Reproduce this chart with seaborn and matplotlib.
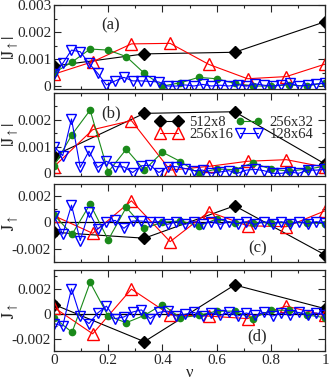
import numpy as np
import matplotlib
matplotlib.use("Agg")
import matplotlib.pyplot as plt
from matplotlib.ticker import MultipleLocator, FixedLocator
import seaborn as sns

# filling factors for each lattice
nu_512x8 = [0, 1/3, 2/3, 1]
nu_256x16 = [k / 7 for k in range(8)]
nu_256x32 = [k / 15 for k in range(16)]
nu_128x64 = [k / 31 for k in range(32)]

# panel (a) |J_up|
a_512x8 = [0.00074, 0.00119, 0.00125, 0.00238]
a_256x16 = [0.00044, 0.00090, 0.00156, 0.00158, 0.00080, 0.00027, 0.00035, 0.00081]
a_256x32 = [0.00049, 0.00089, 0.00137, 0.00133, 0.00109, 0.00047, 0.0, 0.00012,
            0.00032, 0.00027, 0.00010, 0.0, 0.0, 0.00004, 0.0, 0.00012]
a_128x64 = [0.00044, 0.00084, 0.00133, 0.00127, 0.00084, 0.00047, 0.00004, 0.00019,
            0.00032, 0.00019, 0.00019, 0.00017, 0.00015, 0.0, 0.0, 0.00004,
            0.0, 0.00006, 0.0, 0.00003, 0.0, 0.00005, 0.0, 0.00008,
            0.00003, 0.0, 0.00004, 0.00010, 0.0, 0.00003, 0.00008, 0.00010]

# panel (b) |J_up|
b_512x8 = [0.00066, 0.00224, 0.00230, 0.00035]
b_256x16 = [0.00025, 0.00163, 0.00197, 0.00012, 0.00026, 0.00045, 0.00051, 0.00023]
b_256x32 = [0.00028, 0.00145, 0.00236, 0.00005, 0.00090, 0.00012, 0.00079, 0.00044,
            0.0, 0.00016, 0.00014, 0.00039, 0.00016, 0.00008, 0.00016, 0.00026]
b_128x64 = [0.00100, 0.00066, 0.00203, 0.00022, 0.00083, 0.00022, 0.00045, 0.00025,
            0.00024, 0.00003, 0.00028, 0.00030, 0.00003, 0.00025, 0.00025, 0.00018,
            0.00010, 0.00012, 0.0, 0.00005, 0.00010, 0.0, 0.00012, 0.00015,
            0.00010, 0.0, 0.0, 0.00005, 0.0, 0.00012, 0.00012, 0.00015]

# panel (c) J_up
c_512x8 = [-0.00075, -0.00120, 0.00125, -0.00246]
c_256x16 = [0.00050, -0.00083, 0.00163, -0.00146, 0.00080, -0.00026, -0.00033, 0.00087]
c_256x32 = [0.00055, -0.00090, 0.00138, -0.00133, 0.00113, -0.00045, 0.0, 0.00012,
            -0.00028, 0.00025, -0.00005, -0.00002, -0.00002, -0.00002, -0.00002, -0.00010]
c_128x64 = [0.00050, -0.00090, 0.00130, -0.00138, 0.00080, -0.00050, 0.0, 0.00015,
            -0.00045, 0.00010, 0.00010, 0.0, 0.00005, -0.00015, 0.00005, -0.00015,
            0.00005, -0.00010, 0.00005, -0.00015, 0.00005, -0.00010, 0.00005, -0.00015,
            0.00005, -0.00010, 0.00005, -0.00015, 0.00005, -0.00010, 0.00005, -0.00005]

# panel (d) J_up
d_512x8 = [0.00073, -0.00225, 0.00230, 0.00040]
d_256x16 = [0.00049, -0.00162, 0.00197, -0.00010, -0.00020, -0.00040, 0.00060, -0.00014]
d_256x32 = [-0.00033, -0.00150, 0.00250, -0.00020, -0.00073, -0.00014, 0.00073, -0.00033,
            -0.00014, 0.00020, 0.00020, -0.00040, 0.00027, 0.00027, -0.00010, -0.00033]
d_128x64 = [-0.00080, -0.00100, 0.00200, -0.00020, -0.00080, 0.00005, 0.00060, -0.00040,
            -0.00027, 0.00013, 0.00030, -0.00040, 0.00010, 0.00020, -0.00020, -0.00005,
            0.00010, -0.00020, 0.00005, -0.00015, 0.00010, -0.00020, 0.00005, -0.00015,
            0.00010, -0.00020, 0.00005, -0.00015, 0.00010, -0.00015, 0.00005, -0.00010]

labels = ["512x8", "256x16", "256x32", "128x64"]
nus = [nu_512x8, nu_256x16, nu_256x32, nu_128x64]
panels = [
    ("(a)", [a_512x8, a_256x16, a_256x32, a_128x64]),
    ("(b)", [b_512x8, b_256x16, b_256x32, b_128x64]),
    ("(c)", [c_512x8, c_256x16, c_256x32, c_128x64]),
    ("(d)", [d_512x8, d_256x16, d_256x32, d_128x64]),
]
yticks = [[0, 0.001, 0.002, 0.003], [0, 0.001, 0.002],
          [-0.002, 0, 0.002], [-0.002, 0, 0.002]]

sns.set_style("ticks")
plt.rcParams["font.family"] = ["Liberation Serif", "DejaVu Serif"]
plt.rcParams["mathtext.fontset"] = "stix"
plt.rcParams["xtick.direction"] = "in"
plt.rcParams["ytick.direction"] = "in"

styles = [
    dict(color="black", marker="D", markersize=6, markerfacecolor="black", markeredgecolor="black"),
    dict(color="red", marker="^", markersize=8.5, markerfacecolor="none", markeredgecolor="red"),
    dict(color="#1a8a1a", marker="o", markersize=4.5, markerfacecolor="#1a8a1a", markeredgecolor="#1a8a1a"),
    dict(color="blue", marker="v", markersize=7, markerfacecolor="none", markeredgecolor="blue"),
]

# axes boxes (top, bottom) in pixels
W, H = 332, 382
boxes = [(5, 89), (93, 176), (184, 262), (270, 351)]
ylims = [(-0.00011, 0.003), (-0.0001, 0.003), (-0.003, 0.0029), (-0.003, 0.0035)]
label_pos = [(0.21, 0.76), (0.21, 0.76), (0.75, 0.18), (0.75, 0.185)]

fig = plt.figure(figsize=(W / 100, H / 100), dpi=100)
axes = []
for i, ((top, bot), (tag, series)) in enumerate(zip(boxes, panels)):
    ax = fig.add_axes([54 / W, 1 - bot / H, 271 / W, (bot - top) / H])
    axes.append(ax)
    if i >= 2:
        ax.axhline(0, color="black", lw=0.9, zorder=1)
    for x, y, lab, st in zip(nus, series, labels, styles):
        sns.lineplot(x=x, y=y, ax=ax, label=lab, lw=0.8, markeredgewidth=1.0,
                     estimator=None, sort=False, legend=False, **st)
    ax.set_xlim(0, 1)
    ax.set_ylim(*ylims[i])
    ax.xaxis.set_major_locator(MultipleLocator(0.2))
    ax.xaxis.set_minor_locator(MultipleLocator(0.1))
    ax.yaxis.set_major_locator(FixedLocator(yticks[i]))
    if i < 2:
        ax.yaxis.set_minor_locator(MultipleLocator(0.0005))
        ax.set_ylabel(r"$|\mathrm{J}_{\uparrow}|$", fontsize=12.5)
    else:
        ax.yaxis.set_minor_locator(MultipleLocator(0.001))
        ax.set_ylabel(r"$\mathrm{J}_{\uparrow}$", fontsize=12.5)
    ax.yaxis.set_label_coords(-0.125, 0.5)
    ax.yaxis.set_major_formatter(plt.FuncFormatter(lambda v, p: "0" if abs(v) < 1e-9 else f"{v:.3f}"))
    ax.tick_params(which="both", top=True, right=True, width=0.8)
    ax.tick_params(which="major", length=5, labelsize=11, pad=2)
    ax.tick_params(which="minor", length=2.5)
    for s in ax.spines.values():
        s.set_linewidth(0.9)
    if i < 3:
        ax.tick_params(labelbottom=False)
    ax.text(*label_pos[i], tag, transform=ax.transAxes, fontsize=12,
            ha="center", va="center")

axes[3].xaxis.set_major_formatter(plt.FuncFormatter(lambda v, p: f"{v:g}"))
axes[3].set_xlabel("ν", fontsize=12, labelpad=-1)

h = axes[1].get_lines()[0:4]
axes[1].legend(h, labels, ncol=2, numpoints=2, frameon=False, fontsize=10.5,
               loc="upper left", bbox_to_anchor=(0.375, 0.72),
               handlelength=1.8, handletextpad=0.5, columnspacing=0.2,
               labelspacing=-0.1, borderaxespad=0, borderpad=0)

fig.savefig("out.png", dpi=100)
